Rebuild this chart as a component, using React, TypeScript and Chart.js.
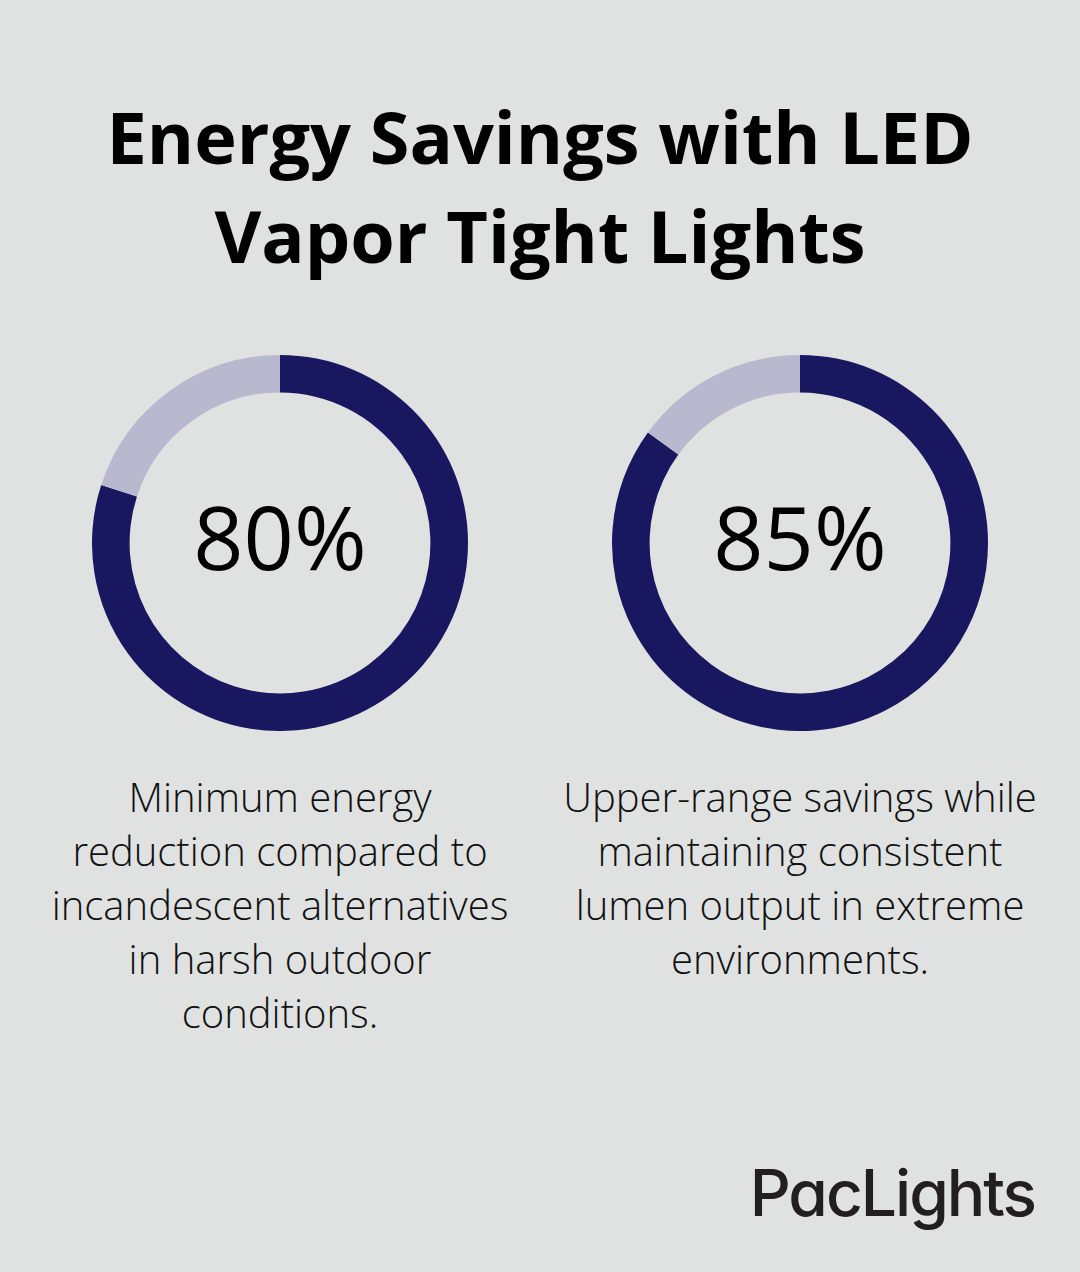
import React, { useEffect, useRef } from "react";
import { Chart, registerables } from "chart.js";

Chart.register(...registerables);

// Savings shares shown in the two rings (percent of 100)
const savingsLabels = ["80%", "85%"];
const savingsValues = [80, 85];
const descriptions = [
  ["Minimum energy", "reduction compared to", "incandescent alternatives", "in harsh outdoor", "conditions."],
  ["Upper-range savings while", "maintaining consistent", "lumen output in extreme", "environments."],
];
const titleLines = ["Energy Savings with LED", "Vapor Tight Lights"];

const NAVY = "#18175f";
const LAVENDER = "#b8b8cf";
const BG = "#e0e2e1";

function Ring({ value, left, top }: { value: number; left: number; top: number }) {
  const ref = useRef<HTMLCanvasElement | null>(null);
  useEffect(() => {
    if (!ref.current) return;
    const chart = new Chart(ref.current, {
      type: "doughnut",
      data: {
        labels: ["Savings", "Remainder"],
        datasets: [
          {
            data: [value, 100 - value],
            backgroundColor: [NAVY, LAVENDER],
            borderWidth: 0,
            hoverOffset: 0,
          },
        ],
      },
      options: {
        responsive: false,
        animation: false,
        cutout: "80%",
        rotation: 0,
        layout: { padding: 0 },
        plugins: { legend: { display: false }, tooltip: { enabled: false } },
        events: [],
      },
    });
    return () => chart.destroy();
  }, [value]);
  return (
    <canvas
      ref={ref}
      width={376}
      height={376}
      style={{ position: "absolute", left, top, width: 376, height: 376 }}
    />
  );
}

export default function App() {
  const centers = [280, 800];
  return (
    <div
      style={{
        position: "absolute",
        left: 0,
        top: 0,
        width: 1080,
        height: 1272,
        background: BG,
        overflow: "hidden",
        fontFamily: "'Open Sans', sans-serif",
        color: "#000",
      }}
    >
      <div
        style={{
          position: "absolute",
          left: 0,
          top: 87,
          width: 1080,
          textAlign: "center",
          fontWeight: 700,
          fontSize: 72,
          lineHeight: "99px",
        }}
      >
        {titleLines.map((l) => (
          <div key={l}>{l}</div>
        ))}
      </div>

      {centers.map((cx, i) => (
        <React.Fragment key={i}>
          <Ring value={savingsValues[i]} left={cx - 188} top={543 - 188} />
          <div
            style={{
              position: "absolute",
              left: cx - 200,
              top: 492,
              width: 400,
              textAlign: "center",
              fontSize: 88,
              lineHeight: "88px",
              fontWeight: 400,
            }}
          >
            {savingsLabels[i]}
          </div>
          <div
            style={{
              position: "absolute",
              left: cx - 270,
              top: 770,
              width: 540,
              textAlign: "center",
              fontSize: 40,
              lineHeight: "54px",
              fontWeight: 300,
              color: "#111",
            }}
          >
            {descriptions[i].map((l) => (
              <div key={l}>{l}</div>
            ))}
          </div>
        </React.Fragment>
      ))}

      <div
        style={{
          position: "absolute",
          right: 45,
          top: 1161,
          fontFamily: "Inter, sans-serif",
          fontWeight: 500,
          fontSize: 64,
          lineHeight: "64px",
          color: "#231f20",
          letterSpacing: -2,
          fontFeatureSettings: '"cv11"',
        }}
      >
        PacLights
      </div>
    </div>
  );
}
